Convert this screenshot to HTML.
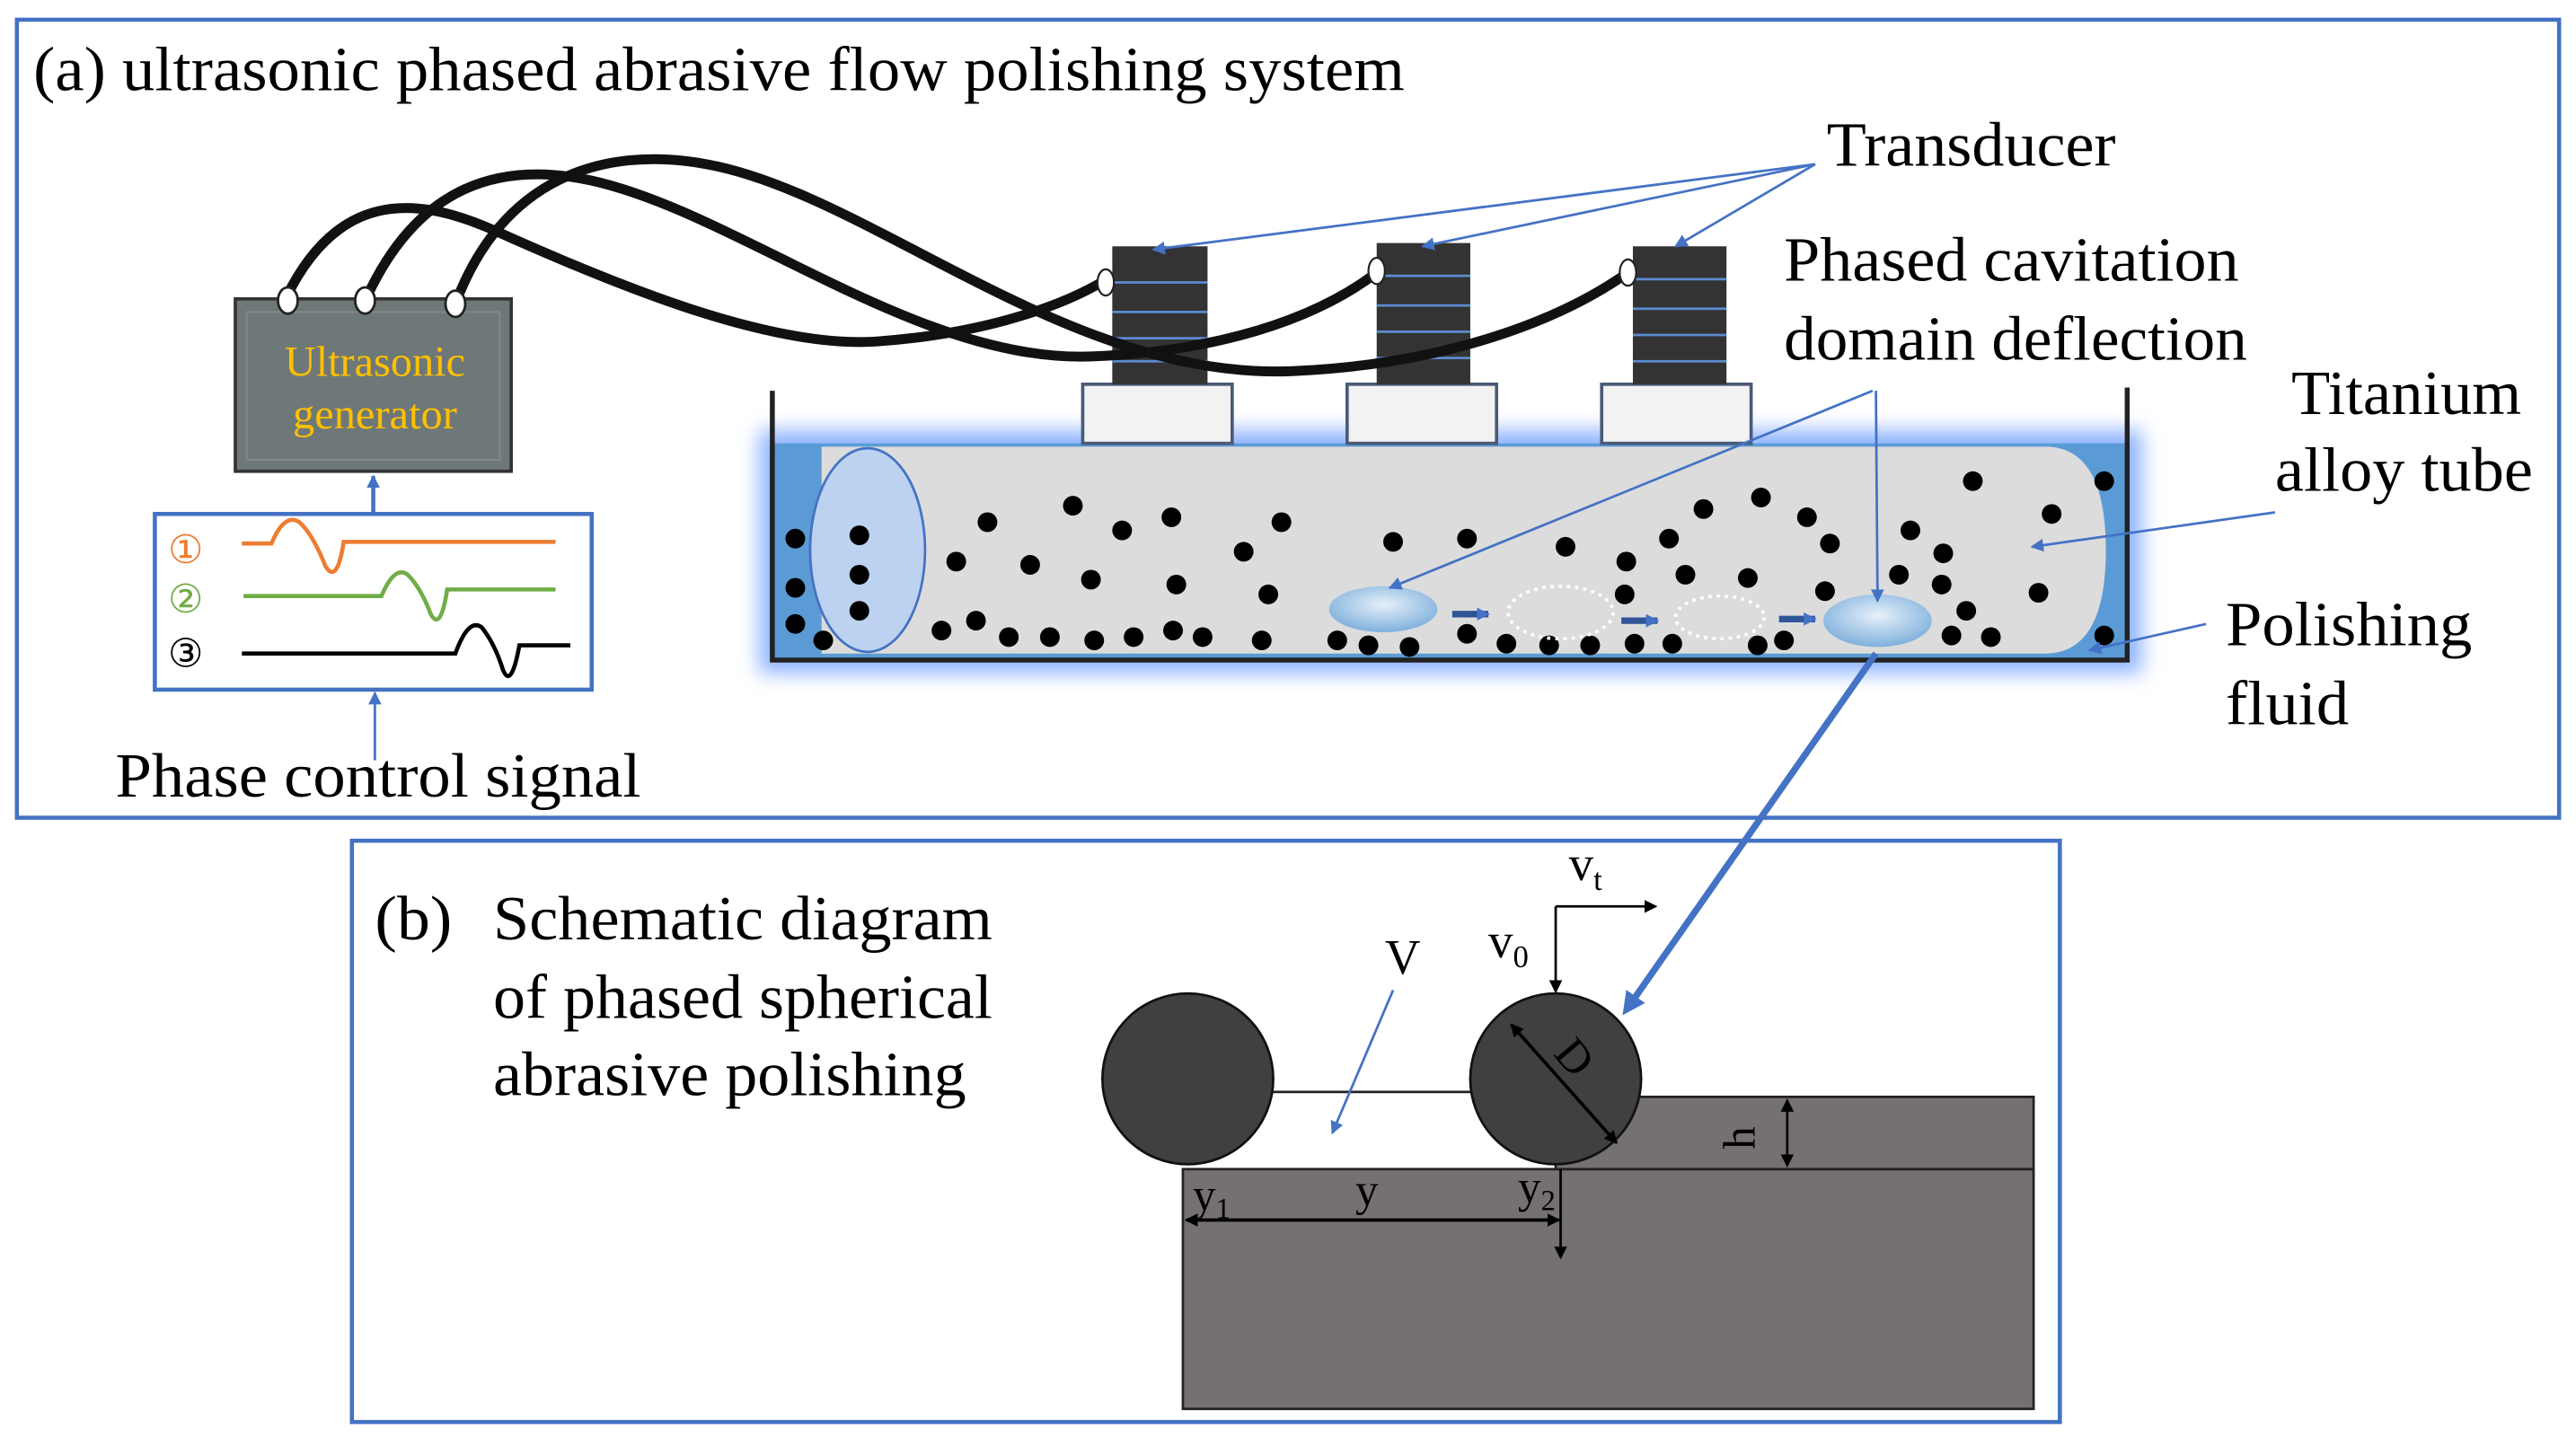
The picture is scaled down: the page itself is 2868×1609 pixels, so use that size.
<!DOCTYPE html>
<html><head><meta charset="utf-8"><style>
html,body{margin:0;padding:0;background:#fff;}
svg{display:block;}
text{font-family:"Liberation Serif",serif;}
</style></head><body>
<svg width="2868" height="1609" viewBox="0 0 1568 880" xmlns="http://www.w3.org/2000/svg">
<defs>
<marker id="ab" markerWidth="8" markerHeight="8" refX="7" refY="4" orient="auto" markerUnits="userSpaceOnUse"><path d="M0,0 L8,4 L0,8 z" fill="#4472c4"/></marker>
<marker id="ak" markerWidth="8" markerHeight="8" refX="7" refY="4" orient="auto" markerUnits="userSpaceOnUse"><path d="M0,0 L8,4 L0,8 z" fill="#000"/></marker>
<marker id="ak2" markerWidth="8" markerHeight="8" refX="1" refY="4" orient="auto" markerUnits="userSpaceOnUse"><path d="M8,0 L0,4 L8,8 z" fill="#000"/></marker>
<marker id="abig" markerWidth="14" markerHeight="14" refX="10" refY="7" orient="auto" markerUnits="userSpaceOnUse"><path d="M0,0 L14,7 L0,14 z" fill="#4472c4"/></marker>
<filter id="glow" x="-10%" y="-30%" width="120%" height="160%"><feGaussianBlur stdDeviation="6"/></filter>
<radialGradient id="cav" cx="50%" cy="40%" r="60%"><stop offset="0" stop-color="#e6f0fa"/><stop offset="1" stop-color="#7fb0dc"/></radialGradient>
</defs>
<!-- panel a -->
<rect x="10" y="12" width="1548" height="486" fill="none" stroke="#4472c4" stroke-width="2.5"/>
<text x="20" y="55" font-size="38" textLength="835" lengthAdjust="spacingAndGlyphs">(a)  ultrasonic phased abrasive flow polishing system</text>

<!-- tank -->
<rect x="462" y="262" width="842" height="148" fill="#8fb4ff" filter="url(#glow)"/>
<rect x="470" y="270" width="825" height="132" fill="#5b9bd5"/>
<path d="M500,272 L1245,272 Q1282,272 1282,335 Q1282,398 1245,398 L500,398 Z" fill="#dcdcdc"/>
<ellipse cx="528" cy="335" rx="35" ry="62" fill="#bcd2f0" stroke="#4472c4" stroke-width="1.5"/>
<path d="M470,238 L470,402 L1295,402 L1295,236" fill="none" stroke="#222" stroke-width="3"/>

<!-- particles -->
<g fill="#000">
<circle cx="484" cy="328" r="6"/><circle cx="484" cy="358" r="6"/><circle cx="484" cy="380" r="6"/><circle cx="501" cy="390" r="6"/>
<circle cx="523" cy="326" r="6"/><circle cx="523" cy="350" r="6"/><circle cx="523" cy="372" r="6"/>
<circle cx="601" cy="318" r="6"/><circle cx="582" cy="342" r="6"/><circle cx="573" cy="384" r="6"/><circle cx="594" cy="378" r="6"/><circle cx="614" cy="388" r="6"/><circle cx="627" cy="344" r="6"/><circle cx="653" cy="308" r="6"/><circle cx="664" cy="353" r="6"/><circle cx="683" cy="323" r="6"/><circle cx="713" cy="315" r="6"/><circle cx="716" cy="356" r="6"/><circle cx="714" cy="384" r="6"/><circle cx="690" cy="388" r="6"/><circle cx="666" cy="390" r="6"/><circle cx="639" cy="388" r="6"/><circle cx="732" cy="388" r="6"/><circle cx="757" cy="336" r="6"/><circle cx="780" cy="318" r="6"/><circle cx="772" cy="362" r="6"/><circle cx="768" cy="390" r="6"/><circle cx="814" cy="390" r="6"/><circle cx="833" cy="393" r="6"/><circle cx="858" cy="394" r="6"/><circle cx="848" cy="330" r="6"/><circle cx="893" cy="328" r="6"/><circle cx="893" cy="386" r="6"/><circle cx="917" cy="392" r="6"/><circle cx="943" cy="393" r="6"/><circle cx="968" cy="393" r="6"/><circle cx="995" cy="392" r="6"/><circle cx="1018" cy="392" r="6"/><circle cx="1070" cy="393" r="6"/><circle cx="1086" cy="390" r="6"/><circle cx="953" cy="333" r="6"/><circle cx="990" cy="342" r="6"/><circle cx="1016" cy="328" r="6"/><circle cx="1037" cy="310" r="6"/><circle cx="1072" cy="303" r="6"/><circle cx="1100" cy="315" r="6"/><circle cx="1114" cy="331" r="6"/><circle cx="1026" cy="350" r="6"/><circle cx="1064" cy="352" r="6"/><circle cx="989" cy="362" r="6"/><circle cx="1111" cy="360" r="6"/><circle cx="1156" cy="350" r="6"/><circle cx="1163" cy="323" r="6"/><circle cx="1183" cy="337" r="6"/><circle cx="1182" cy="356" r="6"/><circle cx="1197" cy="372" r="6"/><circle cx="1188" cy="387" r="6"/><circle cx="1212" cy="388" r="6"/><circle cx="1201" cy="293" r="6"/><circle cx="1249" cy="313" r="6"/><circle cx="1241" cy="361" r="6"/><circle cx="1281" cy="293" r="6"/><circle cx="1281" cy="387" r="6"/>
</g>
<!-- cavitation -->
<ellipse cx="842" cy="371" rx="33" ry="14" fill="url(#cav)"/>
<ellipse cx="950" cy="373" rx="32" ry="16" fill="none" stroke="#fff" stroke-width="2" stroke-dasharray="2,3"/>
<ellipse cx="1047" cy="376" rx="27" ry="13" fill="none" stroke="#fff" stroke-width="2" stroke-dasharray="2,3"/>
<ellipse cx="1143" cy="378" rx="33" ry="16" fill="url(#cav)"/>
<g stroke="#2f5597" stroke-width="4" marker-end="url(#ab)">
<line x1="884" y1="374" x2="906" y2="374"/><line x1="987" y1="378" x2="1009" y2="378"/><line x1="1083" y1="377" x2="1105" y2="377"/>
</g>

<!-- transducers -->
<g>
<rect x="659" y="234" width="91" height="36" fill="#f2f2f2" stroke="#4a5a78" stroke-width="2"/>
<rect x="820" y="234" width="91" height="36" fill="#f2f2f2" stroke="#4a5a78" stroke-width="2"/>
<rect x="975" y="234" width="91" height="36" fill="#f2f2f2" stroke="#4a5a78" stroke-width="2"/>
<rect x="677" y="150" width="58" height="84" fill="#333"/>
<rect x="838" y="148" width="57" height="86" fill="#333"/>
<rect x="994" y="150" width="57" height="84" fill="#333"/>
<g stroke="#5b8bd0" stroke-width="1.5">
<path d="M677,172H735M677,190H735M677,206H735M677,220H735"/>
<path d="M838,168H895M838,186H895M838,202H895M838,218H895"/>
<path d="M994,170H1051M994,188H1051M994,204H1051M994,220H1051"/>
</g>
</g>

<!-- cables -->
<g fill="none" stroke="#111" stroke-width="6" stroke-linecap="round">
<path d="M174,181 C205,118 250,118 300,140 C380,176 470,212 533,208 C590,204 640,190 672,171"/>
<path d="M223,181 C255,112 305,98 360,110 C450,130 560,222 666,217 C740,214 800,195 838,166"/>
<path d="M277,185 C305,110 365,88 430,100 C530,118 650,232 787,226 C880,222 950,195 991,166"/>
</g>
<g fill="#fff" stroke="#222" stroke-width="1.2">
<ellipse cx="673" cy="172" rx="5" ry="8"/><ellipse cx="838" cy="165" rx="5" ry="8"/><ellipse cx="991" cy="166" rx="5" ry="8"/>
</g>

<!-- generator -->
<rect x="143" y="182" width="168" height="105" fill="#6f7878" stroke="#333" stroke-width="2"/>
<rect x="150" y="190" width="154" height="90" fill="none" stroke="#888" stroke-width="1"/>
<text x="173" y="229" font-size="26" fill="#ffc000" textLength="110" lengthAdjust="spacingAndGlyphs">Ultrasonic</text>
<text x="178" y="261" font-size="26" fill="#ffc000" textLength="100" lengthAdjust="spacingAndGlyphs">generator</text>
<g fill="#fff" stroke="#222" stroke-width="1.5">
<ellipse cx="175" cy="183" rx="6" ry="8"/><ellipse cx="222" cy="183" rx="6" ry="8"/><ellipse cx="277" cy="185" rx="6" ry="8"/>
</g>
<line x1="227" y1="313" x2="227" y2="290" stroke="#4472c4" stroke-width="2.5" marker-end="url(#ab)"/>

<!-- signal box -->
<rect x="94" y="313" width="266" height="107" fill="#fff" stroke="#4472c4" stroke-width="2.5"/>
<text x="102" y="343" font-size="24" fill="#ed7d31" font-family="Liberation Sans,sans-serif">①</text>
<text x="102" y="373" font-size="24" fill="#70ad47" font-family="Liberation Sans,sans-serif">②</text>
<text x="102" y="406" font-size="24" fill="#000" font-family="Liberation Sans,sans-serif">③</text>
<path d="M147,331 H165 Q173,312 182,318 Q190,325 198,345 Q205,356 209,330 H338" fill="none" stroke="#ed7d31" stroke-width="2.5"/>
<path d="M148,363 H232 Q240,344 248,350 Q256,358 262,374 Q268,385 272,359 H338" fill="none" stroke="#70ad47" stroke-width="2.5"/>
<path d="M147,398 H277 Q285,376 293,382 Q301,392 306,408 Q311,420 316,393 H347" fill="none" stroke="#000" stroke-width="2.5"/>
<line x1="228" y1="463" x2="228" y2="422" stroke="#4472c4" stroke-width="1.5" marker-end="url(#ab)"/>
<text x="70" y="485" font-size="38" textLength="320" lengthAdjust="spacingAndGlyphs">Phase control signal</text>

<!-- labels a -->
<text x="1112" y="101" font-size="38" textLength="176" lengthAdjust="spacingAndGlyphs">Transducer</text>
<g stroke="#4472c4" stroke-width="1.5" marker-end="url(#ab)">
<line x1="1105" y1="100" x2="702" y2="152"/><line x1="1105" y1="100" x2="866" y2="150"/><line x1="1105" y1="100" x2="1020" y2="150"/>
<line x1="1140" y1="238" x2="846" y2="358"/><line x1="1142" y1="238" x2="1143" y2="366"/>
<line x1="1385" y1="312" x2="1237" y2="333"/><line x1="1343" y1="380" x2="1272" y2="396"/>
</g>
<text x="1086" y="171" font-size="38" textLength="277" lengthAdjust="spacingAndGlyphs">Phased cavitation</text>
<text x="1086" y="219" font-size="38" textLength="282" lengthAdjust="spacingAndGlyphs">domain deflection</text>
<text x="1395" y="252" font-size="38" textLength="140" lengthAdjust="spacingAndGlyphs">Titanium</text>
<text x="1385" y="299" font-size="38" textLength="157" lengthAdjust="spacingAndGlyphs">alloy tube</text>
<text x="1355" y="393" font-size="38" textLength="150" lengthAdjust="spacingAndGlyphs">Polishing</text>
<text x="1355" y="441" font-size="38" textLength="75" lengthAdjust="spacingAndGlyphs">fluid</text>

<!-- panel b -->
<rect x="214" y="512" width="1040" height="354" fill="#fff" stroke="#4472c4" stroke-width="2.5"/>
<text x="228" y="572" font-size="38" textLength="47" lengthAdjust="spacingAndGlyphs">(b)</text>
<text x="300" y="572" font-size="38" textLength="304" lengthAdjust="spacingAndGlyphs">Schematic diagram</text>
<text x="300" y="620" font-size="38" textLength="304" lengthAdjust="spacingAndGlyphs">of phased spherical</text>
<text x="300" y="667" font-size="38" textLength="288" lengthAdjust="spacingAndGlyphs">abrasive polishing</text>

<rect x="720" y="712" width="518" height="146" fill="#767171" stroke="#222" stroke-width="1.5"/>
<rect x="947" y="668" width="291" height="44" fill="#767171" stroke="#222" stroke-width="1.5"/>
<line x1="775" y1="665" x2="895" y2="665" stroke="#222" stroke-width="1.5"/>
<circle cx="723" cy="657" r="52" fill="#404040" stroke="#111" stroke-width="1.5"/>
<circle cx="947" cy="657" r="52" fill="#404040" stroke="#111" stroke-width="1.5"/>
<line x1="920" y1="624" x2="984" y2="696" stroke="#000" stroke-width="2" marker-end="url(#ak)" marker-start="url(#ak2)"/>
<text x="0" y="0" font-size="28" fill="#000" transform="translate(945,642) rotate(50)">D</text>
<line x1="1088" y1="670" x2="1088" y2="710" stroke="#000" stroke-width="1.5" marker-end="url(#ak)" marker-start="url(#ak2)"/>
<text x="0" y="0" font-size="28" transform="translate(1068,700) rotate(-90)">h</text>
<line x1="722" y1="743" x2="949" y2="743" stroke="#000" stroke-width="2" marker-end="url(#ak)" marker-start="url(#ak2)"/>
<line x1="950" y1="712" x2="950" y2="766" stroke="#000" stroke-width="1.5" marker-end="url(#ak)"/>
<text x="726" y="737" font-size="28">y<tspan font-size="18" dy="5">1</tspan></text>
<text x="825" y="734" font-size="28">y</text>
<text x="924" y="732" font-size="28">y<tspan font-size="18" dy="5">2</tspan></text>
<line x1="947" y1="552" x2="947" y2="604" stroke="#000" stroke-width="1.5" marker-end="url(#ak)"/>
<line x1="947" y1="552" x2="1008" y2="552" stroke="#000" stroke-width="1.5" marker-end="url(#ak)"/>
<text x="955" y="536" font-size="30">v<tspan font-size="19" dy="6">t</tspan></text>
<text x="906" y="583" font-size="30">v<tspan font-size="19" dy="6">0</tspan></text>
<text x="843" y="593" font-size="30">V</text>
<line x1="848" y1="603" x2="811" y2="690" stroke="#4472c4" stroke-width="1.5" marker-end="url(#ab)"/>

<!-- big arrow -->
<line x1="1142" y1="398" x2="990" y2="615" stroke="#4472c4" stroke-width="4" marker-end="url(#abig)"/>
</svg>
</body></html>
